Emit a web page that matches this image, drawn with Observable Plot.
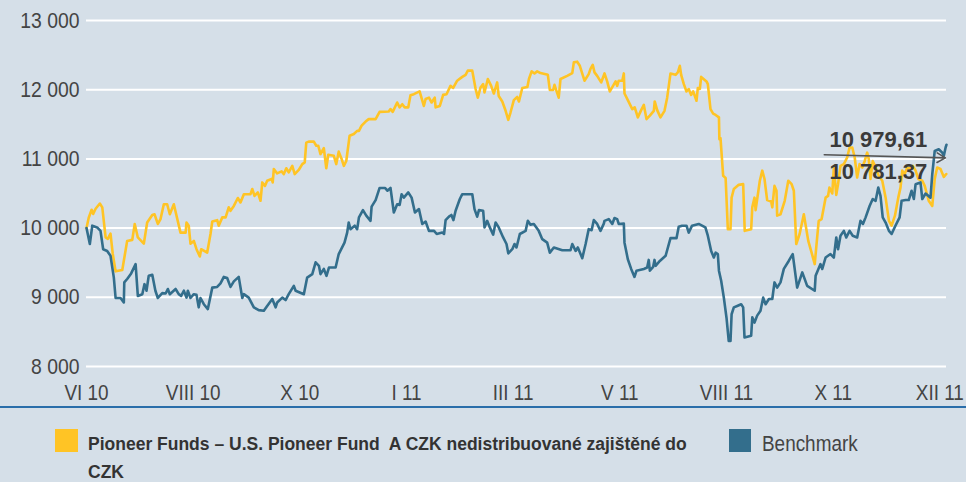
<!DOCTYPE html>
<html><head><meta charset="utf-8">
<script src="https://cdn.jsdelivr.net/npm/d3@7"></script>
<script src="https://cdn.jsdelivr.net/npm/@observablehq/plot@0.6"></script>
<style>
html,body{margin:0;padding:0;background:#d5dfe8;}
body{width:966px;height:482px;overflow:hidden;position:relative;font-family:"Liberation Sans",Arial,sans-serif;}
#chart svg{display:block;overflow:visible;}
#legend{position:absolute;left:0;top:406px;width:966px;height:74px;border-top:2px solid #2a6eaa;}
.sw{position:absolute;width:23px;height:23px;top:21px;}
.lt{position:absolute;color:#333;white-space:nowrap;}
</style>
</head><body>
<div id="chart"></div>
<div id="legend">
  <div class="sw" style="left:55px;background:#ffc425"></div>
  <div class="lt" style="left:88px;top:26px;font-size:17.5px;line-height:20px;font-weight:bold;">Pioneer Funds – U.S. Pioneer Fund&nbsp; A CZK nedistribuované zajištěné do</div>
  <div class="lt" style="left:88px;top:56px;font-size:17.5px;line-height:16px;font-weight:bold;">CZK</div>
  <div class="sw" style="left:729px;width:22px;background:#336e8c"></div>
  <div class="lt" style="left:762px;top:25px;font-size:21.5px;line-height:22px;color:#444;transform:scaleX(0.88);transform-origin:0 50%;">Benchmark</div>
</div>
<script>
const seriesNames = ["Pioneer Funds – U.S. Pioneer Fund  A CZK nedistribuované zajištěné do CZK", "Benchmark"];
const xTickDays = [0, 48, 96, 144, 192, 240, 288, 336, 384];
const xTickLabels = ["VI 10", "VIII 10", "X 10", "I 11", "III 11", "V 11", "VIII 11", "X 11", "XII 11"];
const yTicks = [8000, 9000, 10000, 11000, 12000, 13000];

const fundDays = [0,1.0,2.3,3.0,4.1,6.0,7.1,8.6,9.6,10.8,11.8,13.1,16.1,18.3,20.6,21.7,23.1,25.8,27.3,29.6,30.6,32.1,33.3,34.8,36.3,37.5,39.3,42.3,44.6,45.0,46.0,46.8,48.3,49.5,51.0,51.6,54.3,55.8,56.6,58.8,59.5,61.1,62.6,64.0,64.8,66.3,68.1,69.3,70.8,73.8,74.6,75.6,77.1,78.3,79.1,80.3,81.3,83.3,83.8,84.3,85.8,87.8,88.8,89.9,91.0,92.6,93.7,95.5,97.1,98.2,98.9,100.0,102.3,103.4,104.3,105.3,106.8,107.9,108.8,111.3,112.4,113.5,114.8,115.8,116.9,118.4,120.3,121.8,122.6,123.8,125.6,127.0,130.1,131.9,136.0,136.8,137.8,139.8,140.9,142.1,143.2,144.8,145.8,147.3,149.9,151.8,152.6,154.1,155.3,156.7,157.1,159.0,160.5,162.0,163.8,165.0,166.8,169.1,170.6,171.6,173.6,175.1,176.1,177.3,178.5,179.1,180.6,182.1,183.3,184.8,185.5,187.1,188.6,189.8,190.8,192.3,193.8,194.6,196.1,198.4,199.1,200.3,201.6,202.8,204.3,207.6,208.5,210.0,210.6,212.5,213.3,216.3,218.6,219.3,220.8,222.0,224.1,226.0,226.8,227.8,228.6,229.8,231.6,233.1,234.3,235.5,238.1,238.8,239.5,241.1,241.8,242.1,243.6,245.6,246.7,248.1,249.6,250.8,252.0,253.5,255.3,255.7,256.8,258.3,260.1,261.3,262.8,265.1,266.1,267.0,267.6,268.8,270.0,271.0,272.1,273.0,274.5,275.1,276.0,276.6,279.0,279.6,280.8,282.0,283.1,284.6,284.8,285.3,286.5,287.6,288.6,289.8,290.3,291.3,293.5,295.5,296.2,299.1,299.6,300.6,301.1,303.0,304.1,305.1,306.3,308.1,308.6,309.6,310.5,310.8,312.3,314.2,315.8,317.3,318.3,319.4,320.9,322.8,324.8,326.3,327.7,328.8,329.5,330.8,331.8,332.6,333.7,334.3,335.6,336.3,337.4,338.2,339.3,340.8,342.3,343.4,344.6,345.7,346.8,347.9,349.1,350.2,351.3,352.0,352.8,353.8,355.1,356.5,358.1,359.6,361.1,362.3,363.8,365.3,366.3,367.1,368.2,369.3,370.8,371.8,373.1,374.3,376.1,377.2,379.0,380.6,381.7,382.8,384.3,385.8,386.9];
const fundValues = [10000,10150,10265,10205,10280,10355,10300,9865,9845,9920,9630,9375,9395,9815,9830,10060,9865,9775,10080,10190,10200,10060,10130,10345,10345,10200,10345,9935,9935,10080,10035,9775,9815,9695,9590,9695,9645,9915,10095,10115,10035,10155,10155,10300,10250,10320,10435,10370,10490,10490,10565,10465,10515,10395,10660,10610,10685,10710,10660,10855,10790,10820,10780,10865,10805,10900,10780,10840,10925,10950,11235,11250,11250,11190,11190,11070,11155,10865,11060,11045,10925,11105,11000,10900,10970,11335,11360,11405,11405,11480,11540,11575,11575,11680,11685,11720,11680,11815,11745,11790,11745,11745,11920,11935,11975,11765,11865,11885,11815,11885,11745,11765,11925,11935,12055,12025,12130,12185,12215,12275,12275,12010,11885,12030,12080,11960,12155,12055,11945,12105,11910,11830,11695,11565,11670,11850,11895,11830,12025,12040,12155,12265,12235,12265,12240,12215,11995,11995,12070,11885,12155,12200,12240,12395,12405,12345,12130,12225,12300,12360,12250,12200,12105,12235,12120,11975,12120,12055,12130,12130,12235,11945,11850,11720,11745,11600,11705,11780,11575,11625,11695,11830,11705,11600,11695,11885,12235,12215,12250,12345,12215,12080,11975,12010,11925,11975,11840,12025,12010,12185,12120,12080,11720,11655,11635,11600,11285,11300,10755,10725,9985,9985,10440,10565,10625,10635,9960,9985,10300,10440,10260,10685,10830,10710,10405,10385,10300,10610,10540,10180,10200,10395,10685,10635,10540,9770,9915,10200,9815,9645,9480,9865,10105,10130,10300,10440,10465,10585,10500,10875,10480,10635,10900,10925,11020,11165,11165,11020,10730,10925,10875,10970,11090,11000,10710,10970,10875,10755,10685,10440,10105,10035,10180,10440,10585,10830,10780,10875,10855,10900,10830,10710,10685,10610,10395,10320,10710,10875,10855,10740,10781.37];

const benchDays = [0,1.5,2.6,4.8,6.3,7.5,9.3,10.8,12.3,13.1,15.3,16.8,17.0,18.3,20.1,22.1,23.1,25.1,26.1,27.0,28.0,29.6,31.0,32.1,34.1,35.6,36.6,37.5,40.1,41.5,42.6,43.8,45.0,45.6,46.8,48.3,49.5,50.5,51.3,52.8,54.6,56.6,58.8,60.3,61.8,63.3,64.8,66.3,68.5,70.1,70.8,73.0,75.3,77.5,79.8,81.3,83.6,85.1,85.8,88.1,89.6,91.0,93.3,94.1,97.8,99.3,101.6,103.1,104.6,105.3,106.8,108.0,109.1,112.1,113.5,116.1,117.3,118.0,118.8,120.7,121.8,122.6,124.4,125.9,127.8,128.3,130.1,131.9,134.3,135.4,136.8,138.3,139.8,140.9,141.8,142.8,144.8,146.3,147.8,149.6,151.1,152.6,154.1,156.4,157.6,160.1,160.9,161.6,163.1,164.2,165.1,166.1,168.0,169.1,173.6,174.6,175.8,176.6,178.5,179.1,180.3,181.5,183.0,184.1,185.5,187.5,189.0,189.8,191.6,192.6,193.5,195.0,197.6,198.6,199.8,201.3,203.5,205.1,207.3,208.5,210.3,214.1,217.8,218.6,220.1,221.1,223.1,224.6,226.0,227.3,228.3,229.8,231.3,232.8,233.1,235.0,236.6,237.6,238.8,239.5,241.8,242.1,243.6,245.1,246.6,247.5,250.8,252.3,253.0,253.5,255.0,255.6,256.1,258.0,260.6,262.8,265.5,266.5,268.0,270.0,271.0,272.5,275.5,278.5,279.6,281.1,282.3,283.1,284.1,284.6,285.6,286.8,288.0,289.0,289.8,290.3,291.3,292.8,294.6,295.5,296.1,299.1,299.6,300.6,301.8,303.3,304.5,305.6,307.1,308.6,309.6,310.8,312.3,313.8,316.0,317.8,319.8,322.1,324.3,327.7,328.1,330.3,331.1,332.6,334.8,336.3,337.4,338.2,339.3,340.8,341.9,343.4,344.8,346.8,348.3,349.4,350.6,352.4,353.8,355.1,356.3,357.3,358.3,359.6,361.1,362.3,363.8,365.9,366.8,368.6,370.0,371.3,372.3,373.1,375.3,376.1,377.6,379.8,380.6,381.7,383.5,385.1,385.8,386.6,387.0];
const benchValues = [10000,9770,10035,10010,9960,9695,9670,9600,9285,8990,8990,8925,9215,9265,9345,9480,9020,9045,9190,9095,9310,9325,9095,8990,9060,9055,9120,9045,9120,9045,9020,9095,8995,9095,8990,9045,9035,8855,8990,8900,8830,9140,9150,9200,9295,9280,9150,9230,9295,8990,9045,8995,8855,8815,8805,8875,8975,8855,8925,8995,8960,9045,9165,9095,9045,9285,9335,9505,9455,9335,9410,9310,9430,9430,9625,9790,9935,10080,9985,10035,9985,10155,10260,10180,10105,10310,10405,10580,10580,10540,10580,10225,10345,10335,10490,10440,10515,10440,10225,10275,10060,10095,9960,9960,9915,9935,9915,10115,10165,10190,10115,10250,10420,10490,10490,10275,10165,10260,10250,10010,10105,10010,9905,10080,10010,9865,9770,9635,9695,9770,9720,9915,9960,10105,10050,10060,9960,9840,9790,9645,9720,9680,9680,9770,9670,9720,9565,9770,9985,9970,10115,10060,9960,10065,10105,10130,10060,10145,10130,10060,10065,9790,9550,9410,9295,9385,9410,9430,9540,9385,9440,9540,9455,9525,9600,9855,9855,10020,10035,10035,9935,10035,10060,10010,9890,9670,9575,9645,9625,9385,9240,8995,8705,8370,8370,8755,8855,8875,8900,8855,8420,8445,8710,8635,8735,8805,8995,8900,8975,8975,9215,9140,9215,9410,9525,9625,9140,9360,9165,9095,9310,9480,9410,9575,9625,9575,9865,9695,9890,9960,9865,9960,9890,9865,10105,10060,10155,10320,10420,10395,10585,10465,10155,10080,9960,9915,10020,10155,10395,10405,10405,10540,10420,10635,10660,10420,10500,10440,10780,11115,11140,11090,11045,11165,11205];

const annotationLabels = ["10 979,61", "10 781,37"];
const annotationValues = [10979.61, 10781.37];
const separatorDays = [332, 386.5];
const separatorValues = [11060, 11015];

const fund = fundDays.map((d, i) => ({day: d, value: fundValues[i], series: seriesNames[0]}));
const bench = benchDays.map((d, i) => ({day: d, value: benchValues[i], series: seriesNames[1]}));
const lastDay = fundDays[fundDays.length - 1];
const labelMap = new Map(xTickDays.map((d, i) => [d, xTickLabels[i]]));
const fmt = d => d3.format(",")(d).replace(/,/g, " ");
const font = '"Liberation Sans",Arial,sans-serif';

const chart = Plot.plot({
  width: 966,
  height: 406,
  marginLeft: 86,
  marginRight: 20,
  marginTop: 20,
  marginBottom: 40,
  style: {background: "transparent", fontFamily: font, overflow: "visible"},
  x: {domain: [0, 387], axis: null, label: null},
  y: {domain: [8000, 13000], axis: null, label: null},
  marks: [
    Plot.gridY(yTicks, {stroke: "#ffffff", strokeOpacity: 1, strokeWidth: 2}),
    Plot.axisY(yTicks, {label: null, tickSize: 0, tickPadding: 7, tickFormat: fmt, fontSize: 22, fill: "#444"}),
    Plot.axisX(xTickDays, {label: null, tickSize: 0, tickPadding: 18, tickFormat: d => labelMap.get(d), fontSize: 21.5, fill: "#444"}),
    Plot.line(fund, {x: "day", y: "value", stroke: "#ffc425", strokeWidth: 2.6}),
    Plot.line(bench, {x: "day", y: "value", stroke: "#336e8c", strokeWidth: 2.6}),
    Plot.arrow([0], {x1: () => separatorDays[0], x2: () => separatorDays[1], y1: () => separatorValues[0], y2: () => separatorValues[1], stroke: "#555", strokeWidth: 1.6, headLength: 9, bend: 0}),
    Plot.text([0], {x: () => lastDay, y: () => annotationValues[0], text: () => annotationLabels[0], textAnchor: "end", dx: -19, dy: -20, fontSize: 22, fontWeight: "bold", fill: "#3a3a3a"}),
    Plot.text([0], {x: () => lastDay, y: () => annotationValues[1], text: () => annotationLabels[1], textAnchor: "end", dx: -19, dy: -2, fontSize: 22, fontWeight: "bold", fill: "#3a3a3a"})
  ]
});
// condense the tick labels horizontally around their anchor, as in the original typeface
d3.select(chart).selectAll('g[aria-label="y-axis tick label"] text, g[aria-label="x-axis tick label"] text').each(function() {
  const t = d3.select(this);
  const tr = t.attr("transform");
  if (tr) {
    t.attr("transform", tr + " scale(0.88,1)");
  } else {
    const x = +t.attr("x") || 0, y = +t.attr("y") || 0;
    t.attr("x", null).attr("y", null).attr("transform", `translate(${x},${y}) scale(0.88,1)`);
  }
});
document.getElementById("chart").appendChild(chart);
</script>
</body></html>
